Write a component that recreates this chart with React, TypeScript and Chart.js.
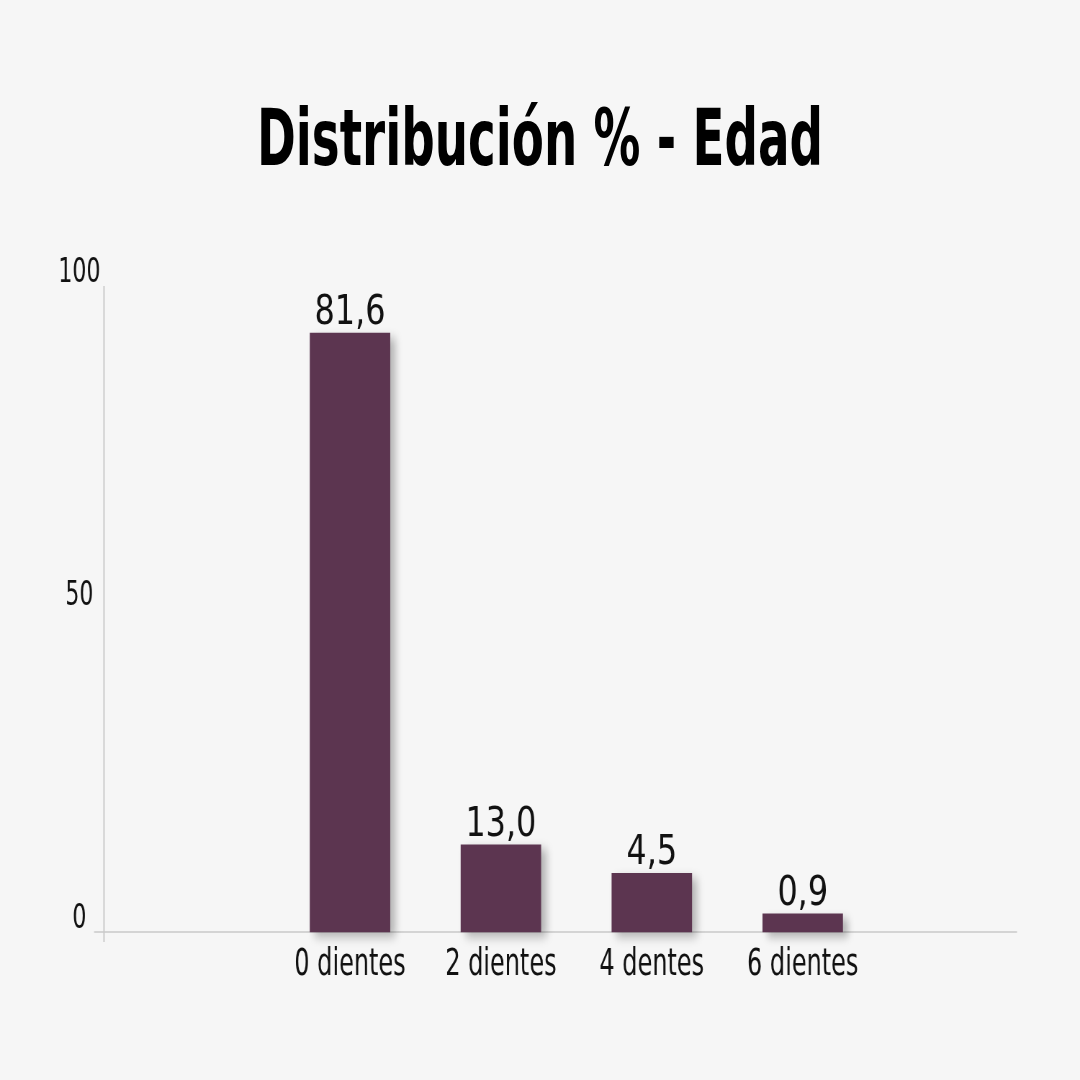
import React, { useEffect, useRef } from "react";
import { Chart, registerables } from "chart.js";

Chart.register(...registerables);

const FONT = "'DejaVu Sans Condensed', 'DejaVu Sans', sans-serif";

const titleText = "Distribución % - Edad";
const categories = ["0 dientes", "2 dientes", "4 dentes", "6 dientes"];
// bar heights as drawn in the picture (read against the 0-100 axis)
const barHeights = [92.7, 13.5, 9.1, 2.8];
// the value labels printed above the bars
const valueLabels = ["81,6", "13,0", "4,5", "0,9"];
const barSlots = [0, 1, 2, 3];
const yTicks = [0, 50, 100];

const BAR_COLOR = "#5c3550";
const AXIS_COLOR = "#c9c9c9";

// the canvas is drawn wider than shown and squeezed by css,
// which gives the narrow, condensed lettering of the original
const SQUEEZE = 0.72;
const SIZE = 1080;
const INNER_W = Math.round(SIZE / SQUEEZE);
const px = (v: number) => v / SQUEEZE; // shown x-distance -> canvas x-distance

const App: React.FC = () => {
	const chartRef = useRef<HTMLCanvasElement | null>(null);
	const chartInstanceRef = useRef<Chart | null>(null);

	useEffect(() => {
		if (!chartRef.current) return;

		if (chartInstanceRef.current) {
			chartInstanceRef.current.destroy();
		}

		// soft shadow behind the bars
		const shadowPlugin = {
			id: "barShadow",
			beforeDatasetsDraw(chart: any) {
				const ctx = chart.ctx;
				ctx.save();
				ctx.shadowColor = "rgba(0,0,0,0.28)";
				ctx.shadowBlur = 10;
				ctx.shadowOffsetX = 7;
				ctx.shadowOffsetY = 5;
			},
			afterDatasetsDraw(chart: any) {
				chart.ctx.restore();
			},
		};

		// axis lines: y line runs a bit below zero, zero line a bit left of the y line
		const axesPlugin = {
			id: "axisLines",
			beforeDatasetsDraw(chart: any) {
				const { ctx, chartArea, scales } = chart;
				const y0 = scales.y.getPixelForValue(0);
				ctx.save();
				ctx.strokeStyle = AXIS_COLOR;
				ctx.lineWidth = 1.5;
				ctx.beginPath();
				ctx.moveTo(chartArea.left - px(10), y0);
				ctx.lineTo(chartArea.right, y0);
				ctx.stroke();
				ctx.lineWidth = 2;
				ctx.beginPath();
				ctx.moveTo(chartArea.left, chartArea.top);
				ctx.lineTo(chartArea.left, y0 + 10);
				ctx.stroke();
				ctx.restore();
			},
		};

		const valueLabelPlugin = {
			id: "valueLabels",
			afterDatasetsDraw(chart: any) {
				const ctx = chart.ctx;
				const meta = chart.getDatasetMeta(0);
				meta.data.forEach((bar: any, i: number) => {
					ctx.save();
					ctx.translate(bar.x, bar.y - 9);
					ctx.scale(1.2, 1);
					ctx.fillStyle = "#111";
					ctx.font = `41px ${FONT}`;
					ctx.textAlign = "center";
					ctx.textBaseline = "alphabetic";
					ctx.fillText(valueLabels[i], 0, 0);
					ctx.restore();
				});
			},
		};

		const config: any = {
			type: "bar",
			data: {
				datasets: [
					{
						data: barSlots.map((x, i) => ({ x, y: barHeights[i] })),
						backgroundColor: BAR_COLOR,
						borderWidth: 0,
						barThickness: px(80),
						clip: false,
					},
				],
			},
			options: {
				responsive: false,
				devicePixelRatio: 1,
				animation: false,
				layout: { padding: { top: 286, right: px(63), left: 0, bottom: 0 } },
				plugins: {
					legend: { display: false },
					tooltip: { enabled: false },
					title: { display: false },
				},
				scales: {
					x: {
						type: "linear",
						offset: false,
						min: -1.63,
						max: 4.42,
						grid: { display: false, drawTicks: false },
						border: { display: false },
						afterBuildTicks: (scale: any) => {
							scale.ticks = barSlots.map((v) => ({ value: v }));
						},
						afterFit: (scale: any) => {
							scale.height = 148;
						},
						ticks: {
							autoSkip: false,
							maxRotation: 0,
							padding: 11,
							color: "#111",
							font: { family: FONT, size: 37 },
							callback: (v: number) => categories[v] ?? "",
						},
					},
					y: {
						min: 0,
						max: 100,
						grid: { display: false, drawTicks: false },
						border: { display: false },
						afterBuildTicks: (scale: any) => {
							scale.ticks = yTicks.map((v) => ({ value: v }));
						},
						afterFit: (scale: any) => {
							scale.width = px(104);
						},
						ticks: {
							crossAlign: "center",
							padding: 5,
							labelOffset: -13,
							color: "#111",
							font: { family: FONT, size: 34 },
						},
					},
				},
			},
			plugins: [axesPlugin, shadowPlugin, valueLabelPlugin],
		};

		chartInstanceRef.current = new Chart(chartRef.current, config);

		return () => {
			if (chartInstanceRef.current) {
				chartInstanceRef.current.destroy();
				chartInstanceRef.current = null;
			}
		};
	}, []);

	return (
		<div
			style={{
				position: "absolute",
				left: 0,
				top: 0,
				width: SIZE,
				height: SIZE,
				background: "#f6f6f6",
				overflow: "hidden",
			}}
		>
			<div
				style={{
					position: "absolute",
					left: 0,
					top: 99,
					width: SIZE,
					textAlign: "center",
					fontFamily: FONT,
					fontWeight: "bold",
					fontSize: 78,
					lineHeight: "78px",
					color: "#000",
					transform: "scaleX(0.667)",
					transformOrigin: "540px 0",
					whiteSpace: "nowrap",
				}}
			>
				{titleText}
			</div>
			<canvas
				ref={chartRef}
				width={INNER_W}
				height={SIZE}
				style={{ position: "absolute", left: 0, top: 0, width: SIZE, height: SIZE }}
			/>
		</div>
	);
};

export default App;
